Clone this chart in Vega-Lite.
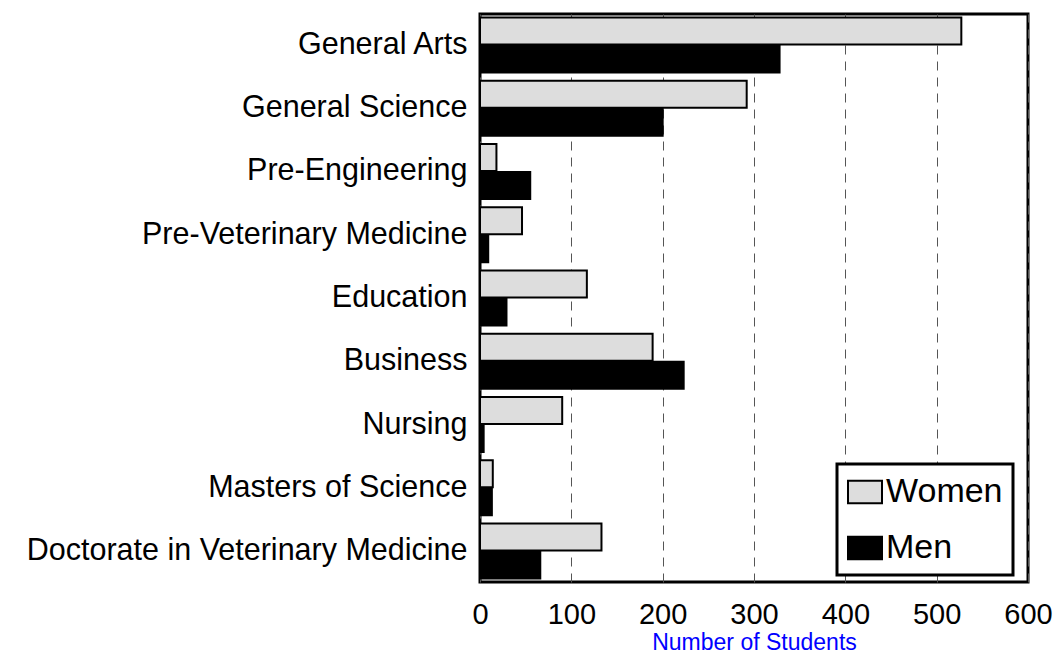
{
  "$schema": "https://vega.github.io/schema/vega-lite/v6.json",
  "autosize": {"type": "none"},
  "padding": {"left": 480, "top": 14, "right": 32, "bottom": 73},
  "width": 548,
  "height": 568,
  "background": "white",
  "config": {
    "view": {"stroke": "black", "strokeWidth": 3},
    "font": "Liberation Sans"
  },
  "data": {
    "values": [
      {"program": "General Arts", "sex": "Women", "students": 527},
      {"program": "General Arts", "sex": "Men", "students": 328},
      {"program": "General Science", "sex": "Women", "students": 292},
      {"program": "General Science", "sex": "Men", "students": 200},
      {"program": "Pre-Engineering", "sex": "Women", "students": 18},
      {"program": "Pre-Engineering", "sex": "Men", "students": 55},
      {"program": "Pre-Veterinary Medicine", "sex": "Women", "students": 46},
      {"program": "Pre-Veterinary Medicine", "sex": "Men", "students": 9},
      {"program": "Education", "sex": "Women", "students": 117},
      {"program": "Education", "sex": "Men", "students": 29},
      {"program": "Business", "sex": "Women", "students": 189},
      {"program": "Business", "sex": "Men", "students": 223},
      {"program": "Nursing", "sex": "Women", "students": 90},
      {"program": "Nursing", "sex": "Men", "students": 4},
      {"program": "Masters of Science", "sex": "Women", "students": 14},
      {"program": "Masters of Science", "sex": "Men", "students": 13},
      {"program": "Doctorate in Veterinary Medicine", "sex": "Women", "students": 133},
      {"program": "Doctorate in Veterinary Medicine", "sex": "Men", "students": 66}
    ]
  },
  "mark": {"type": "bar", "stroke": "black", "strokeWidth": 2},
  "encoding": {
    "y": {
      "field": "program",
      "type": "nominal",
      "sort": null,
      "scale": {"paddingInner": 0.13, "paddingOuter": 0.055},
      "axis": {
        "title": null,
        "domain": false,
        "ticks": false,
        "tickSize": 0,
        "labelPadding": 13,
        "labelFontSize": 30.5,
        "labelFont": "Liberation Sans",
        "labelColor": "black",
        "labelLimit": 600,
        "grid": false
      }
    },
    "yOffset": {
      "field": "sex",
      "type": "nominal",
      "sort": ["Women", "Men"],
      "scale": {"paddingInner": 0.04}
    },
    "x": {
      "field": "students",
      "type": "quantitative",
      "scale": {"domain": [0, 600], "nice": false},
      "axis": {
        "title": "Number of Students",
        "titleColor": "#0000ff",
        "titleFontSize": 23,
        "titleFontWeight": "normal",
        "titleFont": "Liberation Sans",
        "titleBaseline": "alphabetic",
        "titleY": 67,
        "values": [0, 100, 200, 300, 400, 500, 600],
        "domain": false,
        "ticks": false,
        "tickSize": 0,
        "labelPadding": 18,
        "labelFontSize": 29,
        "labelFont": "Liberation Sans",
        "labelColor": "black",
        "labelFlush": false,
        "labelOverlap": false,
        "grid": true,
        "gridDash": [9, 7],
        "gridColor": "#555555",
        "gridWidth": 1
      }
    },
    "fill": {
      "field": "sex",
      "type": "nominal",
      "scale": {"domain": ["Women", "Men"], "range": ["#dddddd", "#000000"]},
      "legend": {
        "title": null,
        "orient": "none",
        "legendX": 357,
        "legendY": 450,
        "symbolType": "M-1,-0.66H1V0.66H-1Z",
        "symbolSize": 1156,
        "symbolStrokeColor": "black",
        "symbolStrokeWidth": 2,
        "labelFontSize": 34,
        "labelFont": "Liberation Sans",
        "labelColor": "black",
        "labelOffset": 3,
        "rowPadding": 21,
        "padding": 10,
        "strokeColor": "black",
        "fillColor": "white",
        "labelLimit": 300,
        "encode": {"legend": {"update": {"strokeWidth": {"value": 3}}}}
      }
    }
  }
}
